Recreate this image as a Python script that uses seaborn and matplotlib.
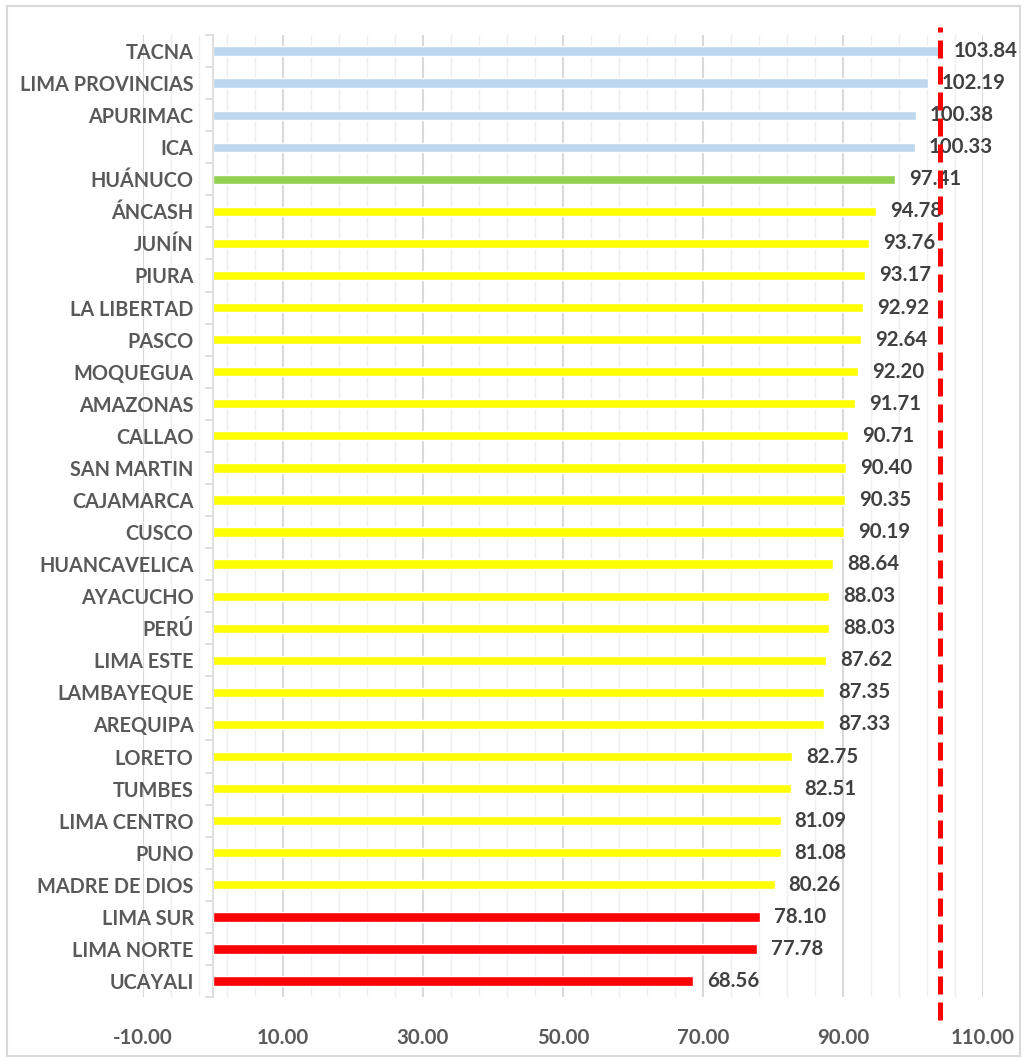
import matplotlib
matplotlib.use("Agg")
import matplotlib.pyplot as plt
import seaborn as sns
import pandas as pd
from matplotlib.ticker import FixedLocator, FormatStrFormatter
from matplotlib.patches import Rectangle

# data (top to bottom)
regiones = ['TACNA', 'LIMA PROVINCIAS', 'APURIMAC', 'ICA', 'HUÁNUCO', 'ÁNCASH',
            'JUNÍN', 'PIURA', 'LA LIBERTAD', 'PASCO', 'MOQUEGUA', 'AMAZONAS',
            'CALLAO', 'SAN MARTIN', 'CAJAMARCA', 'CUSCO', 'HUANCAVELICA',
            'AYACUCHO', 'PERÚ', 'LIMA ESTE', 'LAMBAYEQUE', 'AREQUIPA', 'LORETO',
            'TUMBES', 'LIMA CENTRO', 'PUNO', 'MADRE DE DIOS', 'LIMA SUR',
            'LIMA NORTE', 'UCAYALI']
valores = [103.84, 102.19, 100.38, 100.33, 97.41, 94.78, 93.76, 93.17, 92.92,
           92.64, 92.20, 91.71, 90.71, 90.40, 90.35, 90.19, 88.64, 88.03, 88.03,
           87.62, 87.35, 87.33, 82.75, 82.51, 81.09, 81.08, 80.26, 78.10, 77.78,
           68.56]
grupos = ['azul'] * 4 + ['verde'] + ['amarillo'] * 22 + ['rojo'] * 3
meta = 103.84

colores = {'azul': '#BDD7EE', 'verde': '#92D050', 'amarillo': '#FFFF00', 'rojo': '#FF0000'}

df = pd.DataFrame({'region': regiones, 'valor': valores, 'grupo': grupos})

sns.set_style('white')
plt.rcParams['font.family'] = ['Lato', 'DejaVu Sans']

fig = plt.figure(figsize=(10.31, 10.60), dpi=100)
ax = fig.add_axes([0.1387, 0.0594, 0.8147, 0.9076])

sns.barplot(data=df, x='valor', y='region', hue='grupo', palette=colores,
            dodge=False, legend=False, width=0.29, orient='h', saturation=1, ax=ax)

for c in ax.containers:
    ax.bar_label(c, fmt='%.2f', padding=10, fontsize=14.7, fontweight='bold',
                 color='#404040')

ax.set_xlim(-10, 110)
ax.set_ylim(len(regiones) - 0.5, -0.5)
ax.xaxis.set_major_locator(FixedLocator([-10, 10, 30, 50, 70, 90, 110]))
ax.xaxis.set_minor_locator(FixedLocator([-10 + 4 * i for i in range(31)]))
ax.xaxis.set_major_formatter(FormatStrFormatter('%.2f'))
ax.yaxis.set_minor_locator(FixedLocator([i - 0.5 for i in range(len(regiones) + 1)]))

ax.grid(True, which='major', axis='x', color='#D9D9D9', lw=1.5)
ax.grid(True, which='minor', axis='x', color='#EFEFEF', lw=1)
ax.set_axisbelow(True)

for s in ['top', 'right', 'bottom']:
    ax.spines[s].set_visible(False)
ax.spines['left'].set_position(('data', 0))
ax.spines['left'].set_color('#D9D9D9')
ax.spines['left'].set_linewidth(1.2)

ax.tick_params(axis='y', which='major', length=0, pad=14, labelsize=14.3,
               labelcolor='#595959')
ax.tick_params(axis='y', which='minor', left=True, length=6, color='#D9D9D9', width=1.2)
ax.tick_params(axis='x', which='both', length=0, pad=22, labelsize=14.7,
               labelcolor='#595959')
for t in ax.get_yticklabels() + ax.get_xticklabels():
    t.set_fontweight('bold')

ax.set_xlabel('')
ax.set_ylabel('')

# linea de meta
ax.axvline(meta, ymin=-0.024, ymax=1.008, color='#FF0000', lw=3.6,
           ls=(0, (3.6, 1.6)), clip_on=False, zorder=5)

fig.patches.append(Rectangle((0.007, 0.004), 0.982, 0.99, transform=fig.transFigure,
                             fill=False, edgecolor='#D9D9D9', lw=1.5))

plt.savefig('out.png', dpi=100)
